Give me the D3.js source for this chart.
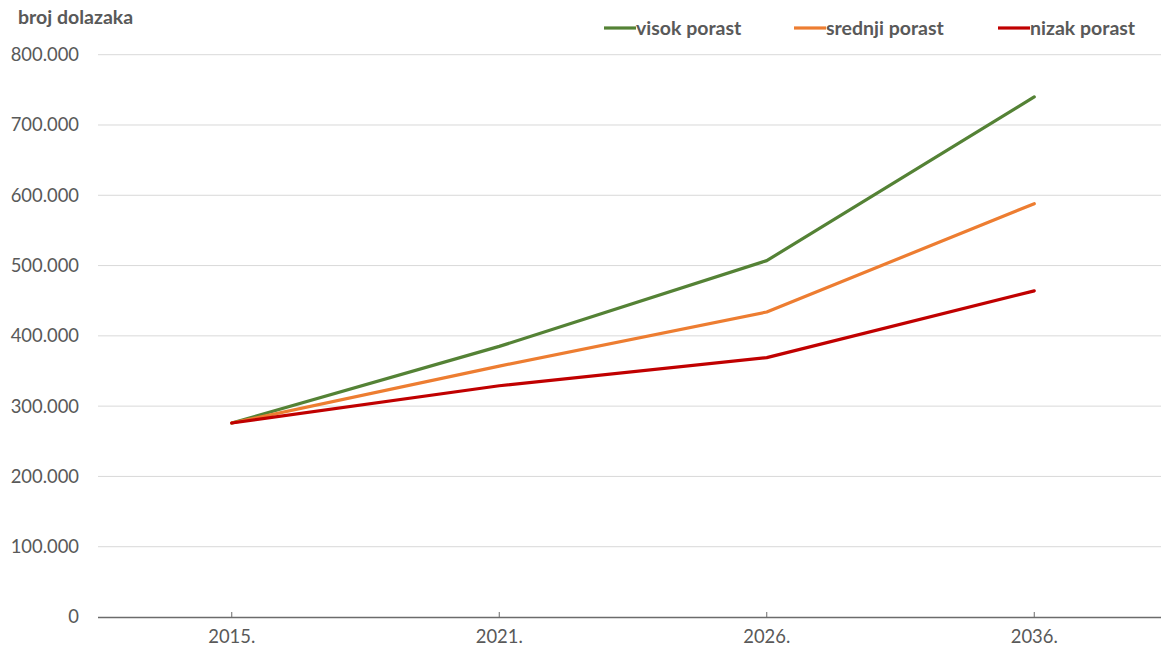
<!DOCTYPE html>
<html>
<head>
<meta charset="utf-8">
<script src="https://cdn.jsdelivr.net/npm/d3@7"></script>
<style>
  html, body { margin: 0; padding: 0; background: #fff; }
  svg { display: block; font-family: Lato, "Open Sans", sans-serif; }
</style>
</head>
<body>
<svg id="chart" width="1161" height="652"></svg>
<script>
// Tourist arrivals projection under three growth scenarios
const years = ["2015.", "2021.", "2026.", "2036."];
const visokPorast = [276000, 385000, 507000, 740000];
const srednjiPorast = [276000, 357000, 434000, 588000];
const nizakPorast = [276000, 329000, 369000, 464000];
const yTicks = [0, 100000, 200000, 300000, 400000, 500000, 600000, 700000, 800000];
const seriesNames = ["visok porast", "srednji porast", "nizak porast"];
const seriesColors = ["#548235", "#ED7D31", "#C00000"];

const series = [
  { name: seriesNames[0], values: visokPorast, color: seriesColors[0] },
  { name: seriesNames[1], values: srednjiPorast, color: seriesColors[1] },
  { name: seriesNames[2], values: nizakPorast, color: seriesColors[2] }
];

const svg = d3.select("#chart");
const plot = { left: 98, right: 1168, top: 54.7, bottom: 617 };

const x = d3.scaleBand().domain(years).range([plot.left, plot.right]).padding(0);
const y = d3.scaleLinear().domain([0, 800000]).range([plot.bottom, plot.top]);

const fmt = v => v === 0 ? "0" : d3.format(",")(v).replace(/,/g, ".");

// horizontal gridlines
svg.append("g")
  .selectAll("line")
  .data(yTicks.filter(d => d > 0))
  .join("line")
  .attr("x1", plot.left).attr("x2", plot.right)
  .attr("y1", d => y(d)).attr("y2", d => y(d))
  .attr("stroke", "#d9d9d9").attr("stroke-width", 1);

// y axis labels
const yAxis = svg.append("g")
  .attr("transform", `translate(${plot.left},0)`)
  .call(d3.axisLeft(y).tickValues(yTicks).tickFormat(fmt).tickSize(0).tickPadding(19));
yAxis.select(".domain").remove();
yAxis.selectAll("text")
  .attr("fill", "#595959")
  .style("font-size", "18.4px")
  .style("font-family", "Lato, 'Open Sans', sans-serif");

// x axis with upward ticks at category centers
const xAxis = svg.append("g")
  .attr("transform", `translate(0,${plot.bottom})`)
  .call(d3.axisBottom(x).tickSize(-5).tickPadding(13));
xAxis.select(".domain")
  .attr("d", `M${plot.left},0.5H${plot.right}`)
  .attr("stroke", "#6b6b6b").attr("stroke-width", 1.5);
xAxis.selectAll(".tick line").attr("stroke", "#6b6b6b");
xAxis.selectAll("text")
  .attr("fill", "#595959")
  .style("font-size", "18.4px")
  .style("font-family", "Lato, 'Open Sans', sans-serif");

// series lines
const line = d3.line()
  .x((d, i) => x(years[i]) + x.bandwidth() / 2)
  .y(d => y(d));

svg.append("g")
  .selectAll("path")
  .data(series)
  .join("path")
  .attr("d", d => line(d.values))
  .attr("fill", "none")
  .attr("stroke", d => d.color)
  .attr("stroke-width", 3.2)
  .attr("stroke-linejoin", "round")
  .attr("stroke-linecap", "round");

// axis title
svg.append("text")
  .attr("x", 18).attr("y", 24)
  .attr("fill", "#595959")
  .style("font-size", "19.5px")
  .style("font-weight", "bold")
  .text("broj dolazaka");

// legend
const legendX = [604, 794, 998];
const legend = svg.append("g")
  .selectAll("g")
  .data(series)
  .join("g")
  .attr("transform", (d, i) => `translate(${legendX[i]},28)`);
legend.append("line")
  .attr("x1", 0).attr("x2", 32).attr("y1", 0).attr("y2", 0)
  .attr("stroke", d => d.color).attr("stroke-width", 3.2);
legend.append("text")
  .attr("x", 32).attr("y", 6.5)
  .attr("fill", "#595959")
  .style("font-size", "19.5px")
  .style("font-weight", "bold")
  .text(d => d.name);
</script>
</body>
</html>
